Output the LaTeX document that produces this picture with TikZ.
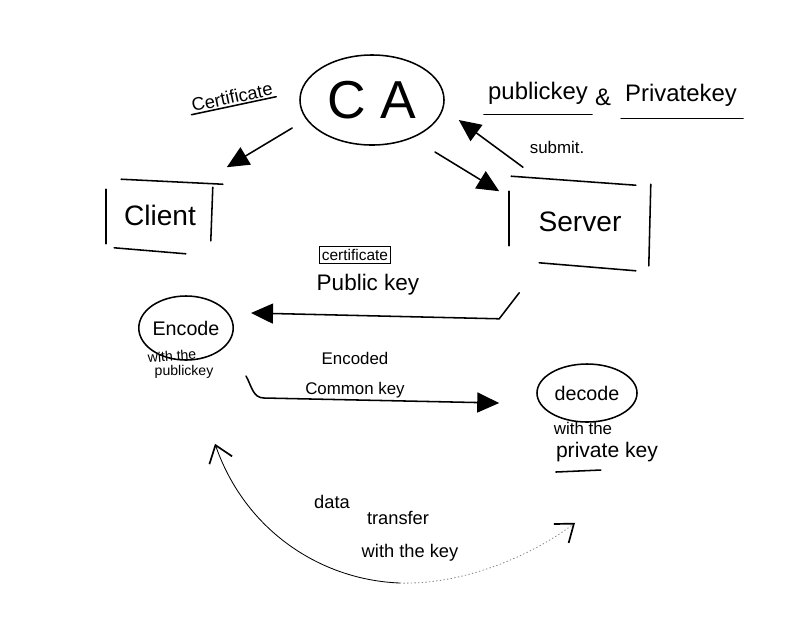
\documentclass[tikz,border=0pt]{standalone}
\usepackage{fontspec}
\setmainfont{Liberation Sans}
\usetikzlibrary{shapes.geometric,arrows.meta}
\begin{document}
\begin{tikzpicture}[
    x=0.025cm, y=-0.025cm,
    line width=1.1pt, line cap=round,
    bubble/.style={ellipse, draw, inner sep=0pt},
    box/.style={inner sep=0pt, font=\fontsize{20}{22}\selectfont},
    lbl/.style={inner sep=1pt, align=center},
    arr/.style={-{Triangle[length=5.5mm,width=5mm]}},
    barb/.tip={Straight Barb[length=4mm,width=6mm,line width=1.2pt,color=black]},
  ]
  \useasboundingbox (0,0) rectangle (800,641);

  % certificate authority
  \node[bubble, minimum width=3.6cm, minimum height=2.25cm,
    font=\fontsize{38}{40}\selectfont] (ca) at (372,100) {C A};
  \node[lbl, rotate=12, font=\fontsize{13}{15}\selectfont] (certlbl) at (232,97) {Certificate};
  \draw (certlbl.south west) -- (certlbl.south east);

  \node[lbl, font=\fontsize{17}{19}\selectfont] (pubkey) at (538,93) {publickey};
  \node[lbl, font=\fontsize{17}{19}\selectfont] (amp) at (603,97) {\&};
  \node[lbl, font=\fontsize{17}{19}\selectfont] (privkey) at (681,95) {Privatekey};
  \draw ([shift={(-2,8)}]pubkey.south west) -- ([shift={(2,8)}]pubkey.south east);
  \draw ([shift={(-2,10)}]privkey.south west) -- ([shift={(4,10)}]privkey.south east);
  \node[lbl, font=\fontsize{12}{14}\selectfont] (submit) at (557,147) {submit.};

  % client and server
  \node[box, minimum width=2.5cm, minimum height=1.5cm] (client) at (160,215) {Client};
  \draw ([shift={(-3,5)}]client.north west) -- ([shift={(-3,-2)}]client.south west);
  \draw ([shift={(2,3)}]client.north east) -- ([shift={(0,-5)}]client.south east);
  \draw ([shift={(12,-5)}]client.north west) -- ([shift={(12,0)}]client.north east);
  \draw ([shift={(5,2)}]client.south west) -- ([shift={(-25,8)}]client.south east);

  \node[box, minimum width=3.5cm, minimum height=2cm] (server) at (580,222) {Server};
  \draw ([shift={(0,10)}]server.north west) -- ([shift={(0,-17)}]server.south west);
  \draw ([shift={(0,3)}]server.north east) -- ([shift={(-2,3)}]server.south east);
  \draw ([shift={(2,-5)}]server.north west) -- ([shift={(-15,4)}]server.north east);
  \draw ([shift={(30,0)}]server.south west) -- ([shift={(-15,8)}]server.south east);

  \draw[arr] ([shift={(-7,28)}]ca.west) -- ([shift={(16,-17)}]client.north east);
  \draw[arr] ([shift={(63,52)}]ca.center) -- ([shift={(-10,10)}]server.north west);
  \draw[arr] ([shift={(-57,-14)}]server.north) -- ([shift={(14,20)}]ca.east);

  % public key to client
  \node[lbl, draw, line width=0.8pt, inner sep=2pt, font=\fontsize{11}{12}\selectfont] (certbox) at (355,255) {certificate};
  \node[lbl, font=\fontsize{16}{18}\selectfont] (pubkeylbl) at (368,285) {Public key};

  \node[bubble, minimum width=2.35cm, minimum height=1.6cm,
    font=\fontsize{14}{16}\selectfont] (encode) at (186,328) {Encode};
  \node[lbl, rotate=4, font=\fontsize{10}{12}\selectfont] (encwith) at (172,356) {with the};
  \node[lbl, font=\fontsize{10}{12}\selectfont] (encpub) at (184,372) {publickey};
  \draw[arr] ([shift={(10,30)}]server.south west) -- ++(-20,26)
    -- ([shift={(17,-15)}]encode.east);

  % common key
  \node[lbl, font=\fontsize{12}{14}\selectfont] (encoded) at (355,358) {Encoded};
  \node[lbl, font=\fontsize{12}{14}\selectfont] (commonkey) at (355,390) {Common key};

  \node[bubble, minimum width=2.5cm, minimum height=1.45cm,
    font=\fontsize{14}{16}\selectfont] (decode) at (587,393) {decode};
  \node[lbl, font=\fontsize{12}{14}\selectfont] (decwith) at (583,428) {with the};
  \node[lbl, font=\fontsize{15}{17}\selectfont] (decpriv) at (607,452) {private key};
  \draw ([shift={(2,8)}]decpriv.south west) -- ([shift={(47,6)}]decpriv.south west);
  \draw[arr] ([shift={(12,48)}]encode.east) to[out=-60,in=180] ++(18,22)
    -- ([shift={(-37,10)}]decode.west);

  % data transfer
  \node[lbl, font=\fontsize{13}{15}\selectfont] (data) at (332,502) {data};
  \node[lbl, font=\fontsize{13}{15}\selectfont] (transfer) at (398,518) {transfer};
  \node[lbl, font=\fontsize{13}{15}\selectfont] (withkey) at (410,553) {with the key};
  \coordinate (low) at (400,583);
  \draw[{barb}-, line width=0.6pt] ([shift={(29,83)}]encode.south)
    .. controls (245,530) and (320,580) .. (low);
  \draw[-{barb}, line width=0.6pt, gray, dotted] (low)
    .. controls (470,585) and (540,550) .. ([shift={(-12,100)}]decode.south);
\end{tikzpicture}
\end{document}
